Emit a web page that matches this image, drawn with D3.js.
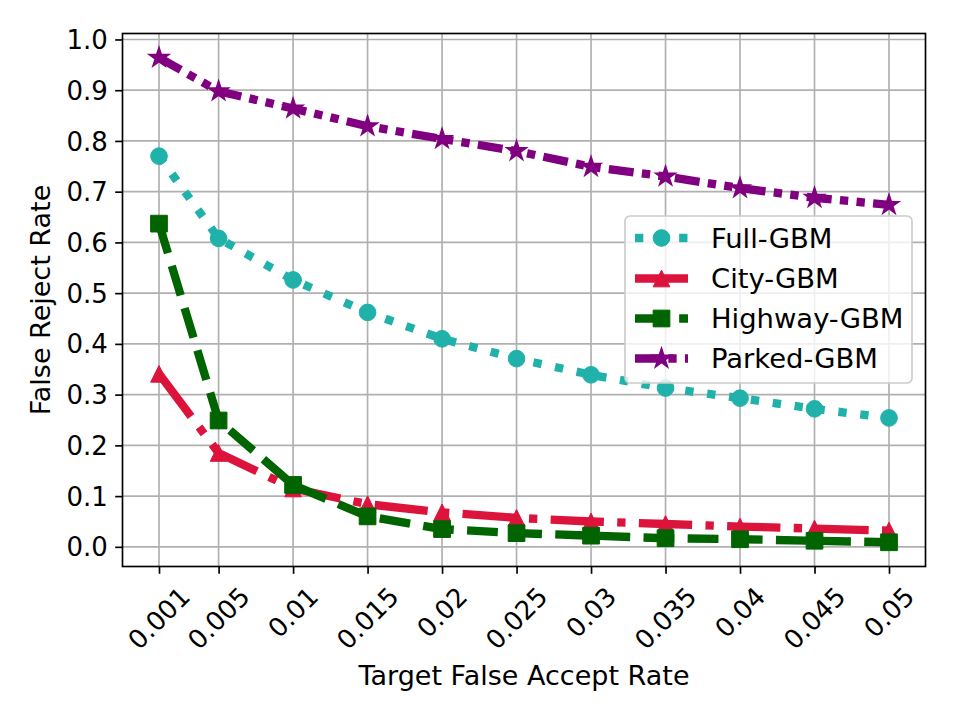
<!DOCTYPE html>
<html><head><meta charset="utf-8">
<script src="https://cdn.jsdelivr.net/npm/d3@7"></script>
<style>
body{margin:0;background:#fff}
text{font-family:"DejaVu Sans",sans-serif;fill:#000}
</style>
</head><body>
<svg id="chart" width="960" height="720"></svg>
<script>
// ---- data ----
const xValues = [0.001, 0.005, 0.01, 0.015, 0.02, 0.025, 0.03, 0.035, 0.04, 0.045, 0.05];
const xTickLabels = ["0.001", "0.005", "0.01", "0.015", "0.02", "0.025", "0.03", "0.035", "0.04", "0.045", "0.05"];
const yTickValues = [0.0, 0.1, 0.2, 0.3, 0.4, 0.5, 0.6, 0.7, 0.8, 0.9, 1.0];
const seriesNames = ["Full-GBM", "City-GBM", "Highway-GBM", "Parked-GBM"];
const fullGBM    = [0.770, 0.608, 0.526, 0.462, 0.410, 0.371, 0.339, 0.313, 0.293, 0.272, 0.254];
const cityGBM    = [0.341, 0.185, 0.115, 0.084, 0.068, 0.057, 0.050, 0.045, 0.040, 0.036, 0.032];
const highwayGBM = [0.637, 0.249, 0.122, 0.060, 0.035, 0.027, 0.022, 0.017, 0.015, 0.012, 0.009];
const parkedGBM  = [0.964, 0.898, 0.864, 0.829, 0.804, 0.780, 0.749, 0.730, 0.707, 0.688, 0.674];
const xLabel = "Target False Accept Rate";
const yLabel = "False Reject Rate";

// ---- styles ----
const LW = 8.33;
const FS = 27;     // axis labels
const FST = 26;    // tick labels
const styles = [
  {color: "#20B2AA", dash: [LW * 1, LW * 1.65], marker: "circle"},
  {color: "#DC143C", dash: [LW * 6.4, LW * 1.6, LW * 1, LW * 1.6], marker: "triangle"},
  {color: "#006400", dash: [LW * 3.7, LW * 1.6], marker: "square"},
  {color: "#800080", dash: [LW * 3, LW, LW, LW, LW, LW], marker: "star"}
];
const seriesData = [fullGBM, cityGBM, highwayGBM, parkedGBM];

const svg = d3.select("#chart");
const L = 122.5, R = 925.5, T = 33.5, B = 566.5;

const xExt = d3.extent(xValues);
const xPad = (xExt[1] - xExt[0]) * 0.05;
const x = d3.scaleLinear().domain([xExt[0] - xPad, xExt[1] + xPad]).range([L, R]);
const allY = seriesData.flat();
const yExt = d3.extent(allY);
const yPad = (yExt[1] - yExt[0]) * 0.05;
const y = d3.scaleLinear().domain([yExt[0] - yPad, yExt[1] + yPad]).range([B, T]);

// grid
const grid = svg.append("g");
grid.selectAll("line.gx").data(xValues).join("line")
  .attr("x1", d => x(d)).attr("x2", d => x(d)).attr("y1", T).attr("y2", B)
  .attr("stroke", "#b0b0b0").attr("stroke-width", 1.67);
grid.selectAll("line.gy").data(yTickValues).join("line")
  .attr("class", "gy")
  .attr("y1", d => y(d)).attr("y2", d => y(d)).attr("x1", L).attr("x2", R)
  .attr("stroke", "#b0b0b0").attr("stroke-width", 1.67);

// axes
const xAxis = svg.append("g").attr("transform", `translate(0,${B})`)
  .call(d3.axisBottom(x).tickValues(xValues).tickSize(7.3).tickFormat(""));
const yAxis = svg.append("g").attr("transform", `translate(${L},0)`)
  .call(d3.axisLeft(y).tickValues(yTickValues).tickSize(7.3).tickFormat(d3.format(".1f")));
[xAxis, yAxis].forEach(a => {
  a.select(".domain").remove();
  a.selectAll(".tick line").attr("stroke", "#000").attr("stroke-width", 1.67);
});
yAxis.selectAll(".tick text").attr("x", -14.6).attr("dy", "0.35em")
  .style("font-size", FST + "px").style("font-family", "DejaVu Sans");

// x tick labels rotated 45
const xt = svg.append("g");
xValues.forEach((v, i) => {
  const t = xt.append("text").text(xTickLabels[i])
    .style("font-size", FST + "px").attr("text-anchor", "middle").attr("dy", "0.35em");
  const w = t.node().getComputedTextLength();
  const h = FST * 1.164;
  const cy = B + 7.3 + 7.3 + (w + h) / (2 * Math.SQRT2);
  t.attr("transform", `translate(${x(v)},${cy}) rotate(-45)`);
});

// frame
svg.append("rect").attr("x", L).attr("y", T).attr("width", R - L).attr("height", B - T)
  .attr("fill", "none").attr("stroke", "#000").attr("stroke-width", 1.67);

// axis labels
svg.append("text").attr("x", (L + R) / 2).attr("y", 685).attr("text-anchor", "middle")
  .style("font-size", FS + "px").text(xLabel);
svg.append("text").attr("transform", `translate(50,${(T + B) / 2}) rotate(-90)`)
  .attr("text-anchor", "middle").style("font-size", FS + "px").text(yLabel);

// markers
const MS = 16.7;
function markerPath(type) {
  const r = MS / 2;
  if (type === "circle") return `M${r},0A${r},${r} 0 1,1 ${-r},0A${r},${r} 0 1,1 ${r},0Z`;
  if (type === "triangle") return `M0,${-r}L${-r},${r}L${r},${r}Z`;
  if (type === "square") return `M${-r},${-r}H${r}V${r}H${-r}Z`;
  if (type === "star") {
    const ro = 9.6;
    let p = [];
    for (let k = 0; k < 10; k++) {
      const rr = k % 2 === 0 ? ro : ro * 0.381966;
      const a = -Math.PI / 2 + k * Math.PI / 5;
      p.push([rr * Math.cos(a), rr * Math.sin(a)]);
    }
    return "M" + p.map(q => q[0].toFixed(2) + "," + q[1].toFixed(2)).join("L") + "Z";
  }
}

const line = d3.line().x(d => x(d[0])).y(d => y(d[1]));
const plot = svg.append("g");
seriesData.forEach((vals, si) => {
  const st = styles[si];
  const pts = xValues.map((v, i) => [v, vals[i]]);
  plot.append("path").attr("d", line(pts)).attr("fill", "none")
    .attr("stroke", st.color).attr("stroke-width", LW)
    .attr("stroke-dasharray", st.dash.join(",")).attr("stroke-linecap", "butt")
    .attr("stroke-linejoin", "round");
  plot.selectAll(null).data(pts).join("path")
    .attr("d", markerPath(st.marker))
    .attr("transform", d => `translate(${x(d[0])},${y(d[1])})`)
    .attr("fill", st.color).attr("stroke", st.color)
    .attr("stroke-width", st.marker === "star" ? 2 : 1).attr("stroke-linejoin", "miter");
});

// legend
const lg = svg.append("g");
lg.append("rect").attr("x", 625).attr("y", 216).attr("width", 287).attr("height", 167)
  .attr("rx", 5).attr("fill", "#fff").attr("fill-opacity", 0.8)
  .attr("stroke", "#cccccc").attr("stroke-width", 1.67);
const rowY = [238, 278.5, 318.5, 358.5];
seriesNames.forEach((name, i) => {
  const st = styles[i];
  lg.append("line").attr("x1", 635).attr("x2", 688).attr("y1", rowY[i]).attr("y2", rowY[i])
    .attr("stroke", st.color).attr("stroke-width", LW)
    .attr("stroke-dasharray", st.dash.join(","));
  lg.append("path").attr("d", markerPath(st.marker))
    .attr("transform", `translate(661.5,${rowY[i]})`)
    .attr("fill", st.color).attr("stroke", st.color)
    .attr("stroke-width", st.marker === "star" ? 2 : 1).attr("stroke-linejoin", "miter");
  lg.append("text").attr("x", 711).attr("y", rowY[i]).attr("dy", "0.35em")
    .style("font-size", "27.4px").text(name);
});
</script>
</body></html>
